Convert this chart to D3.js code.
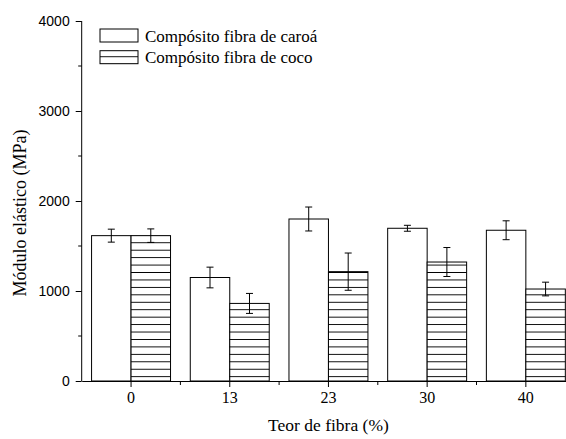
<!DOCTYPE html>
<html>
<head>
<meta charset="utf-8">
<script src="https://cdn.jsdelivr.net/npm/d3@7"></script>
<style>
  html, body { margin: 0; padding: 0; background: #fff; }
  svg { display: block; }
</style>
</head>
<body>
<svg id="chart" width="566" height="439"></svg>
<script>
// Fibre content categories (%)
const categories = ["0", "13", "23", "30", "40"];
const seriesNames = ["Compósito fibra de caroá", "Compósito fibra de coco"];
// Elastic modulus (MPa) and standard deviations
const caroaValues = [1615, 1150, 1800, 1697, 1675];
const caroaErrors = [72, 115, 133, 33, 105];
const cocoValues  = [1615, 862, 1215, 1322, 1022];
const cocoErrors  = [75, 111, 207, 161, 76];
const yTicks = [0, 1000, 2000, 3000, 4000];
const yMinorTicks = [500, 1500, 2500, 3500];

(function () {
const svg = d3.select("#chart");
const serif = "'Liberation Serif', 'Times New Roman', serif";
const sans = "'Liberation Sans', Arial, sans-serif";

const plotLeft = 81.7, step = 98.7, plotTop = 21, plotBottom = 381;

const x = d3.scaleBand()
  .domain(categories)
  .range([plotLeft, plotLeft + step * categories.length])
  .paddingInner(0.2)
  .paddingOuter(0.1);

const xs = d3.scaleBand()
  .domain(seriesNames)
  .range([0, x.bandwidth()]);

const y = d3.scaleLinear().domain([0, 4000]).range([plotBottom, plotTop]);

// Horizontal hatch fill for the coconut-fibre series
const hatchGap = 7.44;
const defs = svg.append("defs");
const pat = defs.append("pattern")
  .attr("id", "hatch")
  .attr("patternUnits", "userSpaceOnUse")
  .attr("x", 0)
  .attr("y", y(0) - 4.3 - 0.5)
  .attr("width", 600)
  .attr("height", hatchGap);
pat.append("rect").attr("width", 600).attr("height", hatchGap).attr("fill", "#fff");
pat.append("line")
  .attr("x1", 0).attr("x2", 600)
  .attr("y1", 0.5).attr("y2", 0.5)
  .attr("stroke", "#000").attr("stroke-width", 1);

const series = [
  { name: seriesNames[0], values: caroaValues, errors: caroaErrors, fill: "#fff" },
  { name: seriesNames[1], values: cocoValues, errors: cocoErrors, fill: "url(#hatch)" }
];

// Bars
series.forEach(s => {
  const g = svg.append("g");
  categories.forEach((c, i) => {
    const bx = x(c) + xs(s.name);
    g.append("rect")
      .attr("x", bx)
      .attr("y", y(s.values[i]))
      .attr("width", xs.bandwidth())
      .attr("height", y(0) - y(s.values[i]))
      .attr("fill", s.fill)
      .attr("stroke", "#000")
      .attr("stroke-width", 1);
  });
});

// Error bars
series.forEach(s => {
  const g = svg.append("g").attr("stroke", "#000").attr("stroke-width", 1);
  categories.forEach((c, i) => {
    const cx = x(c) + xs(s.name) + xs.bandwidth() / 2;
    const hi = y(s.values[i] + s.errors[i]);
    const lo = y(s.values[i] - s.errors[i]);
    g.append("line").attr("x1", cx).attr("x2", cx).attr("y1", hi).attr("y2", lo);
    g.append("line").attr("x1", cx - 3.5).attr("x2", cx + 3.5).attr("y1", hi).attr("y2", hi);
    g.append("line").attr("x1", cx - 3.5).attr("x2", cx + 3.5).attr("y1", lo).attr("y2", lo);
  });
});

// Y axis
const yAxis = svg.append("g")
  .attr("transform", `translate(${plotLeft},0)`)
  .call(d3.axisLeft(y).tickValues(yTicks).tickFormat(d3.format("d"))
    .tickSize(6).tickPadding(6).tickSizeOuter(0));
yAxis.select(".domain").attr("stroke", "#000").attr("d", `M0,${y(0)}V${y(4000)}`);
yAxis.selectAll(".tick line").attr("stroke", "#000");
yAxis.selectAll(".tick text").attr("font-family", sans).attr("font-size", 14).attr("fill", "#000");
yAxis.selectAll(".minor").data(yMinorTicks).enter().append("line")
  .attr("class", "minor")
  .attr("x1", -3.5).attr("x2", 0)
  .attr("y1", d => y(d)).attr("y2", d => y(d))
  .attr("stroke", "#000");

// X axis
const xAxis = svg.append("g")
  .attr("transform", `translate(0,${y(0)})`)
  .call(d3.axisBottom(x).tickSize(6).tickPadding(5).tickSizeOuter(0));
xAxis.select(".domain").attr("stroke", "#000");
xAxis.selectAll(".tick line").attr("stroke", "#000");
xAxis.selectAll(".tick text").attr("font-family", serif).attr("font-size", 16).attr("fill", "#000");
const minorX = categories.map(c => x(c) + x.bandwidth() / 2 - x.step() / 2);
xAxis.selectAll(".minor").data(minorX.slice(1)).enter().append("line")
  .attr("class", "minor")
  .attr("x1", d => d).attr("x2", d => d)
  .attr("y1", 0).attr("y2", 4)
  .attr("stroke", "#000");

// Axis titles
const [r0, r1] = x.range();
svg.append("text")
  .attr("x", (r0 + r1) / 2)
  .attr("y", 431)
  .attr("text-anchor", "middle")
  .attr("font-family", serif)
  .attr("font-size", 17.5)
  .text("Teor de fibra (%)");

svg.append("text")
  .attr("transform", "translate(26,213) rotate(-90)")
  .attr("text-anchor", "middle")
  .attr("font-family", serif)
  .attr("font-size", 18)
  .text("Módulo elástico (MPa)");

// Legend
const legend = svg.append("g");
series.forEach((s, i) => {
  const ly = 29 + i * 21.7;
  legend.append("rect")
    .attr("x", 100).attr("y", ly)
    .attr("width", 38).attr("height", 13)
    .attr("fill", s.fill)
    .attr("stroke", "#000")
    .attr("stroke-width", 1);
  legend.append("text")
    .attr("x", 145).attr("y", ly + 12.5)
    .attr("font-family", serif)
    .attr("font-size", 17)
    .text(s.name);
});
})();
</script>
</body>
</html>
